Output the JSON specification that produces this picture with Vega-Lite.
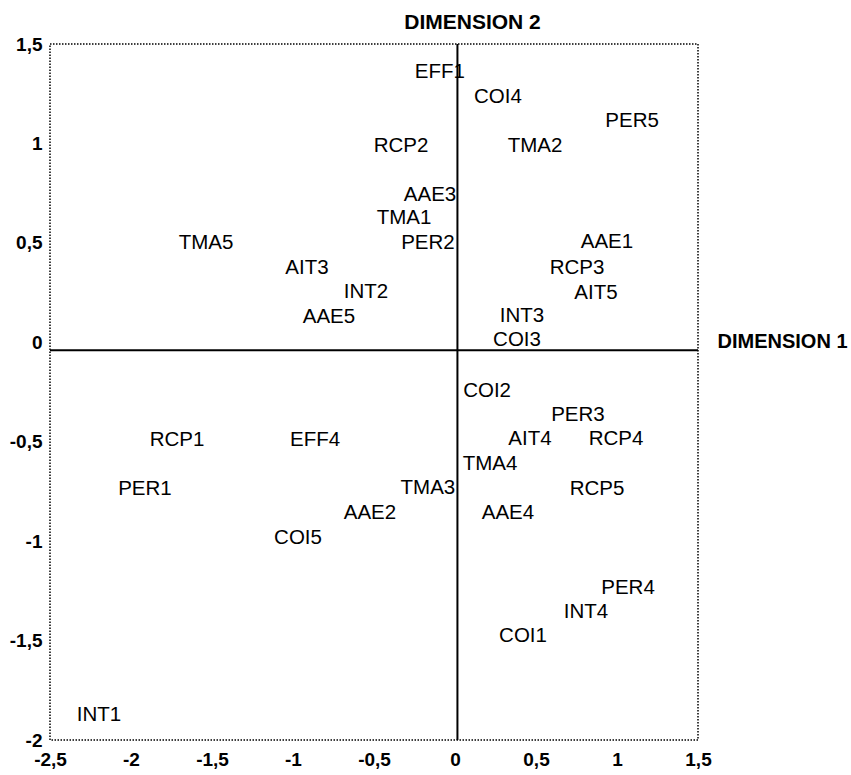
{
  "$schema": "https://vega.github.io/schema/vega-lite/v6.json",
  "width": 648,
  "height": 696,
  "autosize": "none",
  "padding": {"left": 50, "top": 44, "right": 153, "bottom": 35},
  "background": "white",
  "config": {
    "font": "Liberation Sans",
    "view": {"stroke": "black", "strokeDash": [1.5, 1.5], "strokeWidth": 1.5}
  },
  "layer": [
    {
      "data": {"values": [{"v": 0.015}]},
      "mark": {"type": "rule", "color": "black", "strokeWidth": 2},
      "encoding": {"x": {"field": "v", "type": "quantitative", "scale": {"domain": [-2.5, 1.5], "nice": false, "zero": false}}}
    },
    {
      "data": {"values": [{"v": -0.04}]},
      "mark": {"type": "rule", "color": "black", "strokeWidth": 2},
      "encoding": {"y": {"field": "v", "type": "quantitative", "scale": {"domain": [-2, 1.5], "nice": false, "zero": false}}}
    },
    {
      "data": {
        "values": [
          {"label": "EFF1", "dim1": -0.093, "dim2": 1.359},
          {"label": "RCP2", "dim1": -0.333, "dim2": 0.987},
          {"label": "AAE3", "dim1": -0.154, "dim2": 0.741},
          {"label": "TMA1", "dim1": -0.315, "dim2": 0.625},
          {"label": "PER2", "dim1": -0.167, "dim2": 0.499},
          {"label": "TMA5", "dim1": -1.537, "dim2": 0.499},
          {"label": "AIT3", "dim1": -0.914, "dim2": 0.374},
          {"label": "INT2", "dim1": -0.549, "dim2": 0.253},
          {"label": "AAE5", "dim1": -0.778, "dim2": 0.127},
          {"label": "COI4", "dim1": 0.265, "dim2": 1.233},
          {"label": "PER5", "dim1": 1.093, "dim2": 1.113},
          {"label": "TMA2", "dim1": 0.494, "dim2": 0.987},
          {"label": "AAE1", "dim1": 0.938, "dim2": 0.504},
          {"label": "RCP3", "dim1": 0.753, "dim2": 0.374},
          {"label": "AIT5", "dim1": 0.870, "dim2": 0.248},
          {"label": "INT3", "dim1": 0.414, "dim2": 0.132},
          {"label": "COI3", "dim1": 0.383, "dim2": 0.012},
          {"label": "COI2", "dim1": 0.198, "dim2": -0.245},
          {"label": "PER3", "dim1": 0.759, "dim2": -0.366},
          {"label": "AIT4", "dim1": 0.463, "dim2": -0.486},
          {"label": "RCP4", "dim1": 0.994, "dim2": -0.486},
          {"label": "TMA4", "dim1": 0.216, "dim2": -0.612},
          {"label": "RCP5", "dim1": 0.877, "dim2": -0.738},
          {"label": "AAE4", "dim1": 0.327, "dim2": -0.858},
          {"label": "TMA3", "dim1": -0.167, "dim2": -0.733},
          {"label": "RCP1", "dim1": -1.716, "dim2": -0.491},
          {"label": "EFF4", "dim1": -0.864, "dim2": -0.491},
          {"label": "PER1", "dim1": -1.914, "dim2": -0.738},
          {"label": "AAE2", "dim1": -0.525, "dim2": -0.858},
          {"label": "COI5", "dim1": -0.969, "dim2": -0.984},
          {"label": "INT1", "dim1": -2.198, "dim2": -1.874},
          {"label": "PER4", "dim1": 1.068, "dim2": -1.236},
          {"label": "INT4", "dim1": 0.809, "dim2": -1.356},
          {"label": "COI1", "dim1": 0.420, "dim2": -1.477}
        ]
      },
      "mark": {"type": "text", "fontSize": 20.5, "align": "center", "baseline": "middle", "color": "black", "font": "Liberation Sans"},
      "encoding": {
        "x": {
          "field": "dim1",
          "type": "quantitative",
          "scale": {"domain": [-2.5, 1.5], "nice": false, "zero": false},
          "axis": {
            "values": [-2.5, -2, -1.5, -1, -0.5, 0, 0.5, 1, 1.5],
            "labelExpr": "replace(toString(datum.value), '.', ',')",
            "domain": false,
            "ticks": false,
            "grid": false,
            "labelFont": "Liberation Sans",
            "labelFontSize": 19,
            "labelFontWeight": "bold",
            "labelColor": "black",
            "labelPadding": 10,
            "labelOverlap": false,
            "labelFlush": false,
            "title": "DIMENSION 1",
            "titleFont": "Liberation Sans",
            "titleFontSize": 20,
            "titleFontWeight": "bold",
            "titleColor": "black",
            "titleAngle": 0,
            "titleAlign": "left",
            "titleBaseline": "middle",
            "titleX": 667,
            "titleY": -399
          }
        },
        "y": {
          "field": "dim2",
          "type": "quantitative",
          "scale": {"domain": [-2, 1.5], "nice": false, "zero": false},
          "axis": {
            "values": [-2, -1.5, -1, -0.5, 0, 0.5, 1, 1.5],
            "labelExpr": "replace(toString(datum.value), '.', ',')",
            "domain": false,
            "ticks": false,
            "grid": false,
            "labelFont": "Liberation Sans",
            "labelFontSize": 19,
            "labelFontWeight": "bold",
            "labelColor": "black",
            "labelPadding": 8,
            "labelOverlap": false,
            "labelFlush": false,
            "labelBaseline": "middle",
            "title": "DIMENSION 2",
            "titleFont": "Liberation Sans",
            "titleFontSize": 21,
            "titleFontWeight": "bold",
            "titleColor": "black",
            "titleAngle": 0,
            "titleAlign": "center",
            "titleBaseline": "middle",
            "titleX": 422,
            "titleY": -22
          }
        },
        "text": {"field": "label", "type": "nominal"}
      }
    }
  ]
}
